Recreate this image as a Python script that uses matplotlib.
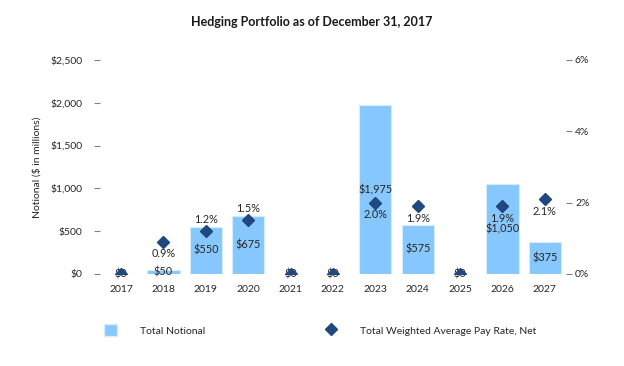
import numpy as np
import matplotlib
matplotlib.use("Agg")
import matplotlib.pyplot as plt
from matplotlib.lines import Line2D
from matplotlib.patches import Patch

plt.rcParams['font.family'] = ['Lato', 'DejaVu Sans']

# data
years = ['2017', '2018', '2019', '2020', '2021', '2022', '2023', '2024', '2025', '2026', '2027']
notional = [0, 50, 550, 675, 0, 0, 1975, 575, 0, 1050, 375]
pay_rate = [0.0, 0.9, 1.2, 1.5, 0.0, 0.0, 2.0, 1.9, 0.0, 1.9, 2.1]
# where the rate label sits relative to the diamond (1 above, -1 below, 0 none)
rate_label_side = [0, -1, 1, 1, 0, 0, -1, -1, 0, -1, -1]

bar_color = '#86C7FD'
marker_color = '#1F4780'
text_color = '#262626'
fs = 7.5

fig = plt.figure(figsize=(6.24, 3.66), dpi=100)
ax = fig.add_axes([0.160, 0.2514, 0.747, 0.585])
ax2 = ax.twinx()

x = np.arange(len(years))
ax.bar(x, notional, width=0.76, color=bar_color, edgecolor='#D6ECFF', linewidth=0.8, zorder=2)
ax.set_xlim(-0.5, len(years) - 0.5)
ax.set_ylim(0, 2500)
ax.set_yticks(np.arange(0, 2501, 500))
ax.set_yticklabels(['$0', '$500', '$1,000', '$1,500', '$2,000', '$2,500'])
ax.set_xticks(x)
ax.set_xticklabels(years)
ax.set_ylabel('Notional ($ in millions)', fontsize=fs, color=text_color, labelpad=6)

for xi, v in zip(x, notional):
    ax.text(xi, v / 2, '${:,}'.format(v), ha='center', va='center', fontsize=fs + 0.3, color=text_color, zorder=3)

ax2.set_ylim(0, 6)
ax2.set_yticks([0, 2, 4, 6])
ax2.set_yticklabels(['0%', '2%', '4%', '6%'])
ax2.plot(x, pay_rate, linestyle='none', marker='D', markersize=6, color=marker_color, zorder=4)
for xi, r, side in zip(x, pay_rate, rate_label_side):
    if side == 0:
        continue
    ax2.annotate('{:.1f}%'.format(r), (xi, r), xytext=(0, 12 * side), textcoords='offset pixels',
                 ha='center', va='center', fontsize=fs + 0.3, color=text_color)

for a in (ax, ax2):
    for s in a.spines.values():
        s.set_visible(False)
ax.tick_params(axis='y', length=4.5, width=0.8, color='#808080', labelsize=fs, labelcolor=text_color, pad=8)
ax2.tick_params(axis='y', length=4.5, width=0.8, color='#808080', labelsize=fs, labelcolor=text_color, pad=2)
ax.tick_params(axis='x', length=0, labelsize=fs, labelcolor=text_color, pad=8)

fig.suptitle('Hedging Portfolio as of December 31, 2017', fontsize=9, fontweight='bold',
             color='#1a1a1a', y=0.955)

handles = [Patch(facecolor=bar_color, edgecolor='#D6ECFF'),
           Line2D([], [], linestyle='none', marker='D', markersize=6, color=marker_color)]
fig.legend(handles, ['Total Notional', 'Total Weighted Average Pay Rate, Net'],
           loc='center left', bbox_to_anchor=(0.152, 0.098), ncol=2, frameon=False,
           fontsize=fs, handlelength=1.2, handleheight=1.5, handletextpad=2.2, columnspacing=11.5,
           labelcolor=text_color)

fig.savefig('out.png', dpi=100)
